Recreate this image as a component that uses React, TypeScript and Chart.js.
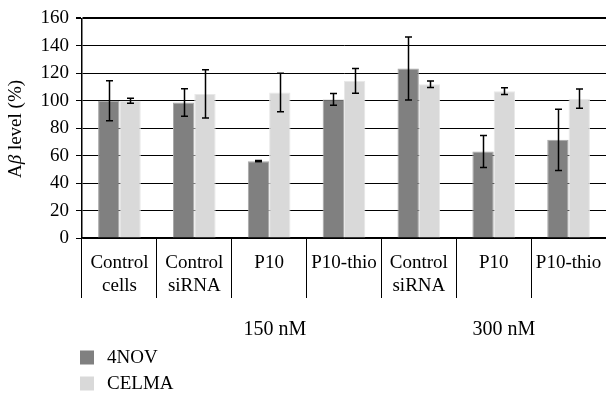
import React, { useEffect, useRef } from "react";
import { Chart, registerables } from "chart.js";

Chart.register(...registerables);

const categories: (string | string[])[] = [
  ["Control", "cells"],
  ["Control", "siRNA"],
  "P10",
  "P10-thio",
  ["Control", "siRNA"],
  "P10",
  "P10-thio",
];
const nov4 = [100, 98.7, 56, 101, 123.5, 63, 71.5];
const nov4Err = [14.5, 10, 0.5, 4.2, 23, 11.7, 22.3];
const celma = [100, 105, 106, 114.5, 112, 107, 101.5];
const celmaErr = [1.8, 17.5, 14, 9, 2.4, 2.5, 7];
const yTicks = [0, 20, 40, 60, 80, 100, 120, 140, 160];
const groupLabels = ["150 nM", "300 nM"];
const seriesNames = ["4NOV", "CELMA"];

const FONT = "'Liberation Serif', 'DejaVu Serif', serif";

export default function App() {
  const ref = useRef<HTMLCanvasElement | null>(null);
  useEffect(() => {
    document.body.style.margin = "0";
    const canvas = ref.current!;
    const errs = [nov4Err, celmaErr];
    const extras = {
      id: "extras",
      afterDatasetsDraw(chart: any) {
        const ctx = chart.ctx;
        const y = chart.scales.y;
        ctx.save();
        ctx.strokeStyle = "#000";
        ctx.lineWidth = 1.5;
        chart.data.datasets.forEach((ds: any, di: number) => {
          const meta = chart.getDatasetMeta(di);
          meta.data.forEach((bar: any, i: number) => {
            const v = ds.data[i];
            const e = errs[di][i];
            const yt = y.getPixelForValue(v + e);
            const yb = y.getPixelForValue(v - e);
            const x = Math.round(bar.x) + 0.5;
            ctx.beginPath();
            ctx.moveTo(x, yt);
            ctx.lineTo(x, yb);
            ctx.moveTo(x - 3.5, yt);
            ctx.lineTo(x + 3.5, yt);
            ctx.moveTo(x - 3.5, yb);
            ctx.lineTo(x + 3.5, yb);
            ctx.stroke();
          });
        });
        ctx.restore();
      },
      afterDraw(chart: any) {
        const ctx = chart.ctx;
        const area = chart.chartArea;
        ctx.save();
        ctx.fillStyle = "#000";
        ctx.font = `20px ${FONT}`;
        ctx.textAlign = "center";
        ctx.textBaseline = "middle";
        ctx.fillText(groupLabels[0], 275, 330);
        ctx.fillText(groupLabels[1], 504, 330);
        // legend
        const colors = ["#808080", "#d9d9d9"];
        ctx.font = `19px ${FONT}`;
        seriesNames.forEach((n, i) => {
          const cy = 357.5 + i * 26;
          ctx.fillStyle = colors[i];
          ctx.fillRect(80, cy - 7, 14, 14);
          ctx.fillStyle = "#000";
          ctx.textAlign = "left";
          ctx.fillText(n, 107, cy + 1);
        });
        // y title
        ctx.translate(16, 129);
        ctx.rotate(-Math.PI / 2);
        const parts = [
          { t: "A", f: `19px ${FONT}` },
          { t: "β", f: `italic 19px ${FONT}` },
          { t: " level (%)", f: `19px ${FONT}` },
        ];
        let total = 0;
        parts.forEach((p) => {
          ctx.font = p.f;
          total += ctx.measureText(p.t).width;
        });
        let xx = -total / 2;
        ctx.textAlign = "left";
        parts.forEach((p) => {
          ctx.font = p.f;
          ctx.fillText(p.t, xx, 0);
          xx += ctx.measureText(p.t).width;
        });
        ctx.restore();
      },
    };
    const chart = new Chart(canvas, {
      type: "bar",
      data: {
        labels: categories,
        datasets: [
          {
            label: seriesNames[0],
            data: nov4,
            backgroundColor: "#808080",
            borderColor: "#a6a6a6",
            borderWidth: 1,
          },
          {
            label: seriesNames[1],
            data: celma,
            backgroundColor: "#d9d9d9",
            borderColor: "#e8e8e8",
            borderWidth: 1,
          },
        ],
      },
      options: {
        responsive: false,
        animation: false,
        layout: { padding: { top: 16, right: 0, left: 0, bottom: 0 } },
        plugins: { legend: { display: false }, tooltip: { enabled: false } },
        datasets: { bar: { categoryPercentage: 0.57, barPercentage: 1 } },
        scales: {
          x: {
            grid: {
              display: true,
              drawOnChartArea: false,
              drawTicks: true,
              tickLength: 60,
              color: "#000",
              lineWidth: 1,
              offset: true,
            },
            border: { color: "#000", width: 1.5 },
            ticks: {
              color: "#000",
              font: { family: FONT, size: 19, lineHeight: 1.2 },
              autoSkip: false,
              maxRotation: 0,
              minRotation: 0,
              padding: -46,
            },
            afterFit: (s: any) => {
              s.height = 394 - 238;
            },
          },
          y: {
            min: 0,
            max: 160,
            afterBuildTicks: (s: any) => {
              s.ticks = yTicks.map((v) => ({ value: v }));
            },
            grid: {
              color: "#000",
              lineWidth: (c: any) => (c.tick && c.tick.value === 160 ? 2 : 1),
              tickLength: 6,
            },
            border: { color: "#000", width: 1.5 },
            ticks: {
              color: "#000",
              font: { family: FONT, size: 19 },
              padding: 7,
            },
            afterFit: (s: any) => {
              s.width = 82;
            },
          },
        },
      },
      plugins: [extras],
    });
    return () => chart.destroy();
  }, []);
  return <canvas ref={ref} width={606} height={394} style={{ display: "block" }} />;
}
